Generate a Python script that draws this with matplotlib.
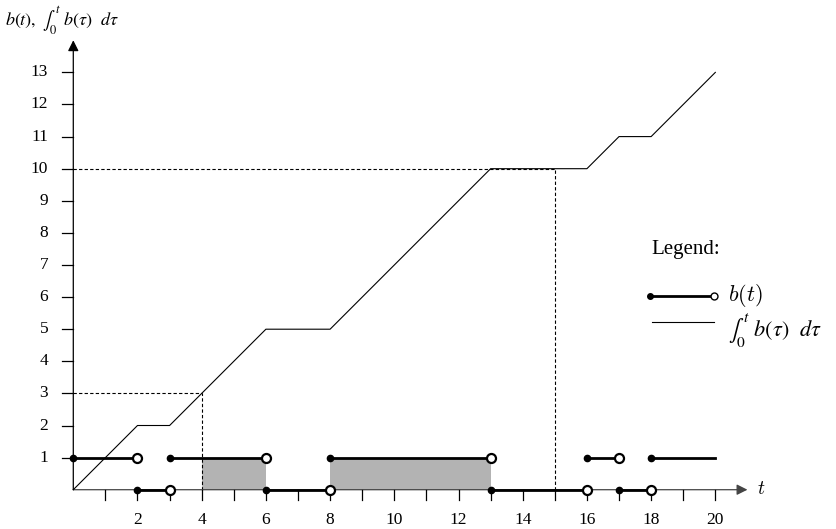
import numpy as np
import matplotlib.pyplot as plt

plt.rcParams['font.family'] = ['Liberation Serif', 'DejaVu Serif']
plt.rcParams['mathtext.fontset'] = 'cm'

# step function b(t): breakpoints and value on each interval
t_edges = [0, 2, 3, 6, 8, 13, 16, 17, 18, 20]
b_vals = [1, 0, 1, 0, 1, 0, 1, 0, 1]

# running integral read at the breakpoints
int_t = [0, 2, 3, 6, 8, 13, 16, 17, 18, 20]
int_vals = [0, 2, 2, 5, 5, 10, 10, 11, 11, 13]

# shaded intervals and dashed guides
shade = [(4, 6), (8, 13)]
guides = [(4, 3), (15, 10)]

x_ticks = list(range(1, 21))
x_labels = [2, 4, 6, 8, 10, 12, 14, 16, 18, 20]
y_ticks = list(range(1, 14))

fig = plt.figure(figsize=(8.37, 5.29), dpi=100)
ax = fig.add_axes([0, 0, 1, 1])
ax.set_xlim(-2.283, 23.79)
ax.set_ylim(-1.224, 15.255)
ax.axis('off')

# shading
for a, b in shade:
    ax.fill_between([a, b], 0, 1, color='#b3b3b3', lw=0, zorder=1)

# dashed guides
for gx, gy in guides:
    ax.plot([gx, gx], [0, gy], 'k--', lw=0.8, dashes=(3, 2), zorder=2)
    ax.plot([0, gx], [gy, gy], 'k--', lw=0.8, dashes=(3, 2), zorder=2)

# axes with arrows
ax.annotate('', xy=(21, 0), xytext=(0, 0),
            arrowprops=dict(arrowstyle='-|>', lw=0.9, color='#444444',
                            mutation_scale=16, shrinkA=0, shrinkB=0), zorder=3)
ax.annotate('', xy=(0, 14), xytext=(0, 0),
            arrowprops=dict(arrowstyle='-|>', lw=0.9, color='black',
                            mutation_scale=16, shrinkA=0, shrinkB=0), zorder=3)

# ticks
for x in x_ticks:
    ax.plot([x, x], [0, -0.33], color='black', lw=0.9, zorder=3)
for x in x_labels:
    ax.text(x, -0.95, str(x), ha='center', va='center', fontsize=12.5)
for y in y_ticks:
    ax.plot([-0.35, 0], [y, y], color='black', lw=0.9, zorder=3)
    ax.text(-0.78, y, str(y), ha='right', va='center', fontsize=12.5)

ax.text(21.3, 0, r'$t$', ha='left', va='center', fontsize=14)
ax.text(-2.13, 14.63, r'$b(t),\ \int_0^t\ b(\tau)\ \ d\tau$', ha='left',
        va='center', fontsize=13, math_fontfamily='stix')

# integral curve
ax.plot(int_t, int_vals, color='black', lw=0.8, zorder=4)

# b(t)
for i in range(len(b_vals)):
    x0, x1 = t_edges[i], t_edges[i + 1]
    v = b_vals[i]
    ax.plot([x0, x1], [v, v], color='black', lw=2, zorder=5)
    ax.plot(x0, v, 'o', ms=4.5, color='black', zorder=6)
    if i < len(b_vals) - 1:
        ax.plot(x1, v, 'o', ms=6.5, mfc='white', mec='black', mew=1.6, zorder=6)

# legend
ax.text(18.0, 7.47, 'Legend:', ha='left', va='center', fontsize=15)
ax.plot([17.98, 19.96], [6.03, 6.03], color='black', lw=2)
ax.plot(17.98, 6.03, 'o', ms=4, color='black')
ax.plot(19.96, 6.03, 'o', ms=5, mfc='white', mec='black', mew=1)
ax.text(20.4, 6.05, r'$b(t)$', ha='left', va='center', fontsize=16)
ax.plot([18.03, 19.96], [5.22, 5.22], color='black', lw=0.8)
ax.text(20.4, 4.95, r'$\int_0^t\ b(\tau)\ \ d\tau$', ha='left', va='center',
        fontsize=16, math_fontfamily='stix')

fig.savefig('out.png', dpi=100)
